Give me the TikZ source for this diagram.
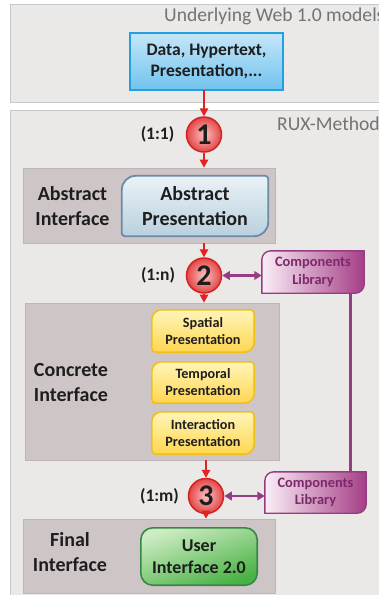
\documentclass[tikz,border=0pt]{standalone}
\usepackage{fontspec}
\setmainfont{Carlito}
\usetikzlibrary{arrows.meta,calc,backgrounds}

\definecolor{regionfill}{RGB}{234,233,232}
\definecolor{regionline}{RGB}{200,200,200}
\definecolor{ifill}{RGB}{206,197,199}
\definecolor{iline}{RGB}{188,182,184}
\definecolor{txt}{RGB}{30,30,30}
\definecolor{graytxt}{RGB}{115,115,115}
\definecolor{arrowred}{RGB}{225,35,35}
\definecolor{circline}{RGB}{210,35,35}
\definecolor{circin}{RGB}{250,195,195}
\definecolor{circout}{RGB}{228,70,70}
\definecolor{bluetop}{RGB}{198,230,248}
\definecolor{bluebot}{RGB}{112,195,238}
\definecolor{blueline}{RGB}{35,160,225}
\definecolor{aptop}{RGB}{234,242,246}
\definecolor{apbot}{RGB}{186,208,222}
\definecolor{apline}{RGB}{105,140,168}
\definecolor{yeltop}{RGB}{255,244,185}
\definecolor{yelbot}{RGB}{255,214,80}
\definecolor{yelline}{RGB}{240,192,20}
\definecolor{greentop}{RGB}{205,236,195}
\definecolor{greenbot}{RGB}{72,178,68}
\definecolor{greenline}{RGB}{55,135,70}
\definecolor{libleft}{RGB}{250,238,247}
\definecolor{libright}{RGB}{165,62,135}
\definecolor{libline}{RGB}{150,60,130}
\definecolor{libtxt}{RGB}{125,40,105}

\pgfdeclarelayer{bg}
\pgfdeclarelayer{mid}
\pgfsetlayers{bg,mid,main}

% box outline with two diagonally opposite corners rounded more strongly
\newcommand\leafoutline[4][]{%
  \path[#1] (#2.west) [rounded corners=#3] |- (#2.north)
    [rounded corners=#4] -| (#2.east)
    [rounded corners=#3] |- (#2.south)
    [rounded corners=#4] -| (#2.west) [sharp corners] -- cycle;}

\tikzset{
  region/.style={draw=regionline, fill=regionfill, line width=1.2pt,
    anchor=north west, inner sep=0pt},
  ibox/.style={draw=iline, fill=ifill, line width=0.8pt, inner sep=0pt},
  boxtext/.style 2 args={align=center, inner sep=0pt, text=txt,
    font=\bfseries\fontsize{#1}{#2}\selectfont},
  sidelabel/.style={align=center, inner sep=0pt, text=txt,
    font=\bfseries\fontsize{20}{25}\selectfont},
  ratio/.style={inner sep=0pt, text=txt,
    font=\bfseries\fontsize{17.5}{20}\selectfont},
  title/.style={anchor=base west, inner sep=0pt, text=graytxt,
    font=\fontsize{19.6}{22}\selectfont},
  stepcirc/.style={circle, minimum size=35pt, inner sep=0pt, draw=circline,
    line width=1.5pt, inner color=circin, outer color=circout, text=txt,
    font=\bfseries\fontsize{30}{30}\selectfont},
  redarr/.style={draw=arrowred, line width=1.4pt,
    -{Triangle[width=8.5pt,length=8pt]}},
  libarr/.style={draw=libline, line width=2.2pt,
    {Triangle[width=8.5pt,length=7.5pt]}-{Triangle[width=8.5pt,length=7.5pt]}},
  libtext/.style={align=center, inner sep=0pt, text=libtxt,
    font=\bfseries\fontsize{14.4}{17.5}\selectfont,
    minimum width=102pt, minimum height=42pt},
}

\begin{document}
\begin{tikzpicture}[x=1pt,y=1pt]
\useasboundingbox (0,0) rectangle (378,-595);

% ---------- background regions and interface groups ----------
\begin{pgfonlayer}{bg}
  \fill[white] (0,0) rectangle (378,-595);
  \node[region, minimum width=390pt, minimum height=98pt] (web) at (10,-4) {};
  \node[region, minimum width=390pt, minimum height=500pt] (rux) at (10,-110) {};
  \node[ibox, minimum width=252pt, minimum height=75pt] (absint) at (149,-205.5) {};
  \node[ibox, minimum width=254pt, minimum height=157pt] (concint) at (152,-381.5) {};
  \node[ibox, minimum width=252pt, minimum height=74pt] (finint) at (149,-556) {};
\end{pgfonlayer}

% ---------- titles ----------
\node[title] (webtitle) at (164,-21) {Underlying Web 1.0 models};
\node[title] (ruxtitle) at (277,-130) {RUX-Method};

% ---------- content boxes ----------
\node[boxtext={17.6}{20.5}, minimum width=153pt, minimum height=57pt] (data)
  at (206.5,-61.5) {Data, Hypertext,\\Presentation,...};
\node[boxtext={20}{25}, minimum width=146pt, minimum height=60pt] (ap)
  at (195,-206) {Abstract\\Presentation};
\node[boxtext={14.2}{17}, minimum width=102pt, minimum height=42pt] (spatial)
  at (203,-331) {Spatial\\Presentation};
\node[boxtext={14.2}{17}, minimum width=102pt, minimum height=41pt] (temporal)
  at (203,-382.5) {Temporal\\Presentation};
\node[boxtext={14.2}{17}, minimum width=102pt, minimum height=42pt] (interaction)
  at (203,-433) {Interaction\\Presentation};
\node[boxtext={18}{22}, minimum width=116pt, minimum height=57pt] (ui)
  at (199,-556.5) {User\\Interface 2.0};
\node[libtext] (lib1) at (313,-272) {Components\\Library};
\node[libtext, minimum width=101pt, minimum height=41pt] (lib2)
  at (315.5,-492.5) {Components\\Library};

\begin{pgfonlayer}{mid}
  \draw[draw=blueline, line width=1.6pt, top color=bluetop, bottom color=bluebot]
    (data.north west) rectangle (data.south east);
  \leafoutline[draw=apline, line width=1.8pt, top color=aptop, bottom color=apbot]{ap}{14pt}{3pt}
  \leafoutline[draw=yelline, line width=1.5pt, top color=yeltop, bottom color=yelbot]{spatial}{10pt}{4pt}
  \leafoutline[draw=yelline, line width=1.5pt, top color=yeltop, bottom color=yelbot]{temporal}{10pt}{4pt}
  \leafoutline[draw=yelline, line width=1.5pt, top color=yeltop, bottom color=yelbot]{interaction}{10pt}{4pt}
  \draw[draw=greenline, line width=1.6pt, rounded corners=12pt,
        shading=axis, top color=greentop, bottom color=greenbot, shading angle=20]
    (ui.north west) rectangle (ui.south east);
  \leafoutline[draw=libline, line width=1.4pt, left color=libleft, right color=libright]{lib1}{9pt}{0.1pt}
  \leafoutline[draw=libline, line width=1.4pt, left color=libleft, right color=libright]{lib2}{9pt}{0.1pt}
  % link between the two component libraries
  \coordinate (libtop) at ($(lib1.south east)+(-14,0)$);
  \draw[libline, line width=2.6pt] (libtop) -- (libtop |- lib2.north);
\end{pgfonlayer}

% ---------- transformation steps ----------
\node[stepcirc] (s1) at (204,-134.5) {1};
\node[stepcirc] (s2) at (204,-275.5) {2};
\node[stepcirc] (s3) at (206,-496) {3};

\node[ratio] (r1) at (157.5,-134.5) {(1:1)};
\node[ratio] (r2) at (158,-275.5) {(1:n)};
\node[ratio] (r3) at (159.5,-496) {(1:m)};

% ---------- interface labels ----------
\node[sidelabel] (absl) at (72.5,-206) {Abstract\\Interface};
\node[sidelabel] (concl) at (71,-383) {Concrete\\Interface};
\node[sidelabel] (finl) at (70,-552) {Final\\Interface};

% ---------- connectors ----------
\draw[redarr] (data.south -| s1) -- (s1.north);
\draw[redarr] (s1.south) -- (s1 |- absint.north);
\draw[redarr] (s1 |- absint.south) -- (s2.north);
\draw[redarr] (s2.south) -- (s2 |- concint.north);
\draw[redarr] (s3 |- concint.south) -- (s3.north);
\draw[redarr] (s3.south) -- (s3 |- finint.north);

\draw[libarr] (s2.east) -- (s2.east -| lib1.west);
\draw[libarr] (s3.east) -- (s3.east -| lib2.west);
\end{tikzpicture}
\end{document}
